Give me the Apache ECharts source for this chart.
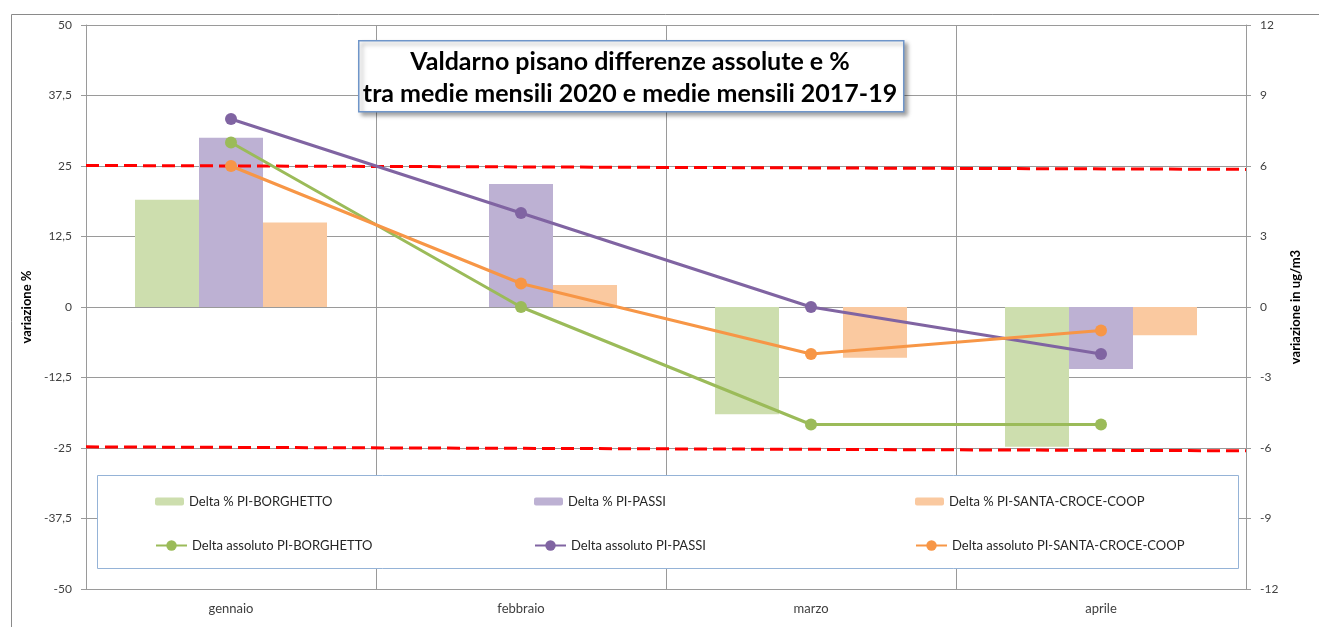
<!DOCTYPE html>
<html>
<head>
<meta charset="utf-8">
<script src="https://cdn.jsdelivr.net/npm/echarts@6/dist/echarts.min.js"></script>
<style>
html,body{margin:0;padding:0;background:#fff;}
#chart{width:1319px;height:627px;}
</style>
</head>
<body>
<div id="chart"></div>
<script>
// ---- data ----
var categories = ['gennaio', 'febbraio', 'marzo', 'aprile'];
var deltaPctBorghetto = [19, 0, -19, -24.8];
var deltaPctPassi = [30, 21.8, 0, -11];
var deltaPctSantaCroce = [15, 3.9, -9, -5];
var deltaAbsBorghetto = [7, 0, -5, -5];
var deltaAbsPassi = [8, 4, 0, -2];
var deltaAbsSantaCroce = [6, 1, -2, -1];
var upperThreshold = [[0, 25.1], [1, 24.4]];
var lowerThreshold = [[0, -24.8], [1, -25.5]];
var leftTicks = {min: -50, max: 50, interval: 12.5};
var rightTicks = {min: -12, max: 12, interval: 3};
var titleLines = ['Valdarno pisano differenze assolute e %', 'tra medie mensili 2020 e medie mensili 2017-19'];
var names = {
  pb: 'Delta % PI-BORGHETTO', pp: 'Delta % PI-PASSI', ps: 'Delta % PI-SANTA-CROCE-COOP',
  ab: 'Delta assoluto PI-BORGHETTO', ap: 'Delta assoluto PI-PASSI', as: 'Delta assoluto PI-SANTA-CROCE-COOP'
};

var FONT = 'Lato, "Liberation Sans", sans-serif';
var gridColor = '#9a9a9a';
var labelStyle = {color: '#404040', fontSize: 12, fontFamily: FONT};

function legendItem(name, left, top, isBar) {
  return {
    data: [name], left: left, top: top, orient: 'horizontal', padding: 0,
    itemWidth: isBar ? 29 : 31, itemHeight: isBar ? 8 : 13, itemGap: 0,
    selectedMode: false, z: 10,
    textStyle: {color: '#262626', fontSize: 13, fontFamily: FONT}
  };
}

var chart = echarts.init(document.getElementById('chart'), null, {renderer: 'canvas'});
var option = {
  backgroundColor: '#fff',
  animation: false,
  title: {
    text: titleLines.join('\n'),
    left: 630, top: 46, textAlign: 'center', padding: 0,
    textStyle: {fontFamily: FONT, fontWeight: 'bold', fontSize: 25, lineHeight: 32, color: '#000', align: 'center'},
    z: 20
  },
  graphic: [
    {type: 'rect', left: 9, top: 12, shape: {width: 1400, height: 700}, style: {fill: 'none', stroke: '#8a8a8a', lineWidth: 1}, z: 0, silent: true},
    {type: 'rect', left: 97, top: 475, shape: {width: 1141, height: 93}, style: {fill: '#fff', stroke: '#95b3d7', lineWidth: 1}, z: 3, silent: true},
    {type: 'rect', left: 358, top: 40, shape: {width: 545, height: 71}, style: {fill: '#fff', stroke: '#6f95c9', lineWidth: 1.5, shadowBlur: 4, shadowOffsetX: 3, shadowOffsetY: 3, shadowColor: 'rgba(0,0,0,0.35)'}, z: 15, silent: true}
  ],
  legend: [
    legendItem(names.pb, 155, 495, true),
    legendItem(names.pp, 534, 495, true),
    legendItem(names.ps, 915, 495, true),
    legendItem(names.ab, 155, 539, false),
    legendItem(names.ap, 534, 539, false),
    legendItem(names.as, 915, 539, false)
  ],
  grid: {left: 86, right: 73, top: 25, bottom: 38, containLabel: false},
  xAxis: [
    {
      type: 'category', data: categories, boundaryGap: true,
      axisLine: {show: true, lineStyle: {color: gridColor}},
      axisTick: {show: false},
      axisLabel: {margin: 13, fontSize: 13, color: '#404040', fontFamily: FONT},
      splitLine: {show: true, lineStyle: {color: gridColor, width: 1}}
    },
    {type: 'value', min: 0, max: 1, show: false}
  ],
  yAxis: [
    {
      type: 'value', min: leftTicks.min, max: leftTicks.max, interval: leftTicks.interval,
      name: 'variazione %', nameLocation: 'middle', nameRotate: 90, nameGap: 50,
      nameTextStyle: {fontFamily: FONT, fontWeight: 'bold', fontSize: 13, color: '#000'},
      axisLine: {show: true, lineStyle: {color: gridColor}},
      axisTick: {show: true, length: 5, lineStyle: {color: gridColor}},
      axisLabel: Object.assign({margin: 14, formatter: function (v) { return String(v).replace('.', ','); }}, labelStyle),
      splitLine: {show: true, lineStyle: {color: gridColor, width: 1}}
    },
    {
      type: 'value', min: rightTicks.min, max: rightTicks.max, interval: rightTicks.interval, position: 'right',
      name: 'variazione in ug/m3', nameLocation: 'middle', nameRotate: 90, nameGap: 43,
      nameTextStyle: {fontFamily: FONT, fontWeight: 'bold', fontSize: 13, color: '#000'},
      axisLine: {show: true, lineStyle: {color: gridColor}},
      axisTick: {show: true, length: 5, lineStyle: {color: gridColor}},
      axisLabel: Object.assign({margin: 14}, labelStyle),
      splitLine: {show: false}
    }
  ],
  series: [
    {name: names.pb, type: 'bar', data: deltaPctBorghetto, barWidth: 64, barGap: '0%', itemStyle: {color: '#cddeae'}},
    {name: names.pp, type: 'bar', data: deltaPctPassi, barWidth: 64, barGap: '0%', itemStyle: {color: '#bdb1d3'}},
    {name: names.ps, type: 'bar', data: deltaPctSantaCroce, barWidth: 64, barGap: '0%', itemStyle: {color: '#fac9a0'}},
    {type: 'line', xAxisIndex: 1, yAxisIndex: 0, data: upperThreshold, symbol: 'none', lineStyle: {color: '#ff0000', width: 3, type: [13, 6]}, silent: true},
    {type: 'line', xAxisIndex: 1, yAxisIndex: 0, data: lowerThreshold, symbol: 'none', lineStyle: {color: '#ff0000', width: 3, type: [13, 6]}, silent: true},
    {name: names.ab, type: 'line', yAxisIndex: 1, data: deltaAbsBorghetto, symbol: 'circle', symbolSize: 12, lineStyle: {color: '#9bbb59', width: 3}, itemStyle: {color: '#9bbb59'}},
    {name: names.ap, type: 'line', yAxisIndex: 1, data: deltaAbsPassi, symbol: 'circle', symbolSize: 12, lineStyle: {color: '#8064a2', width: 3}, itemStyle: {color: '#8064a2'}},
    {name: names.as, type: 'line', yAxisIndex: 1, data: deltaAbsSantaCroce, symbol: 'circle', symbolSize: 12, lineStyle: {color: '#f79646', width: 3}, itemStyle: {color: '#f79646'}}
  ]
};
chart.setOption(option);
</script>
</body>
</html>
